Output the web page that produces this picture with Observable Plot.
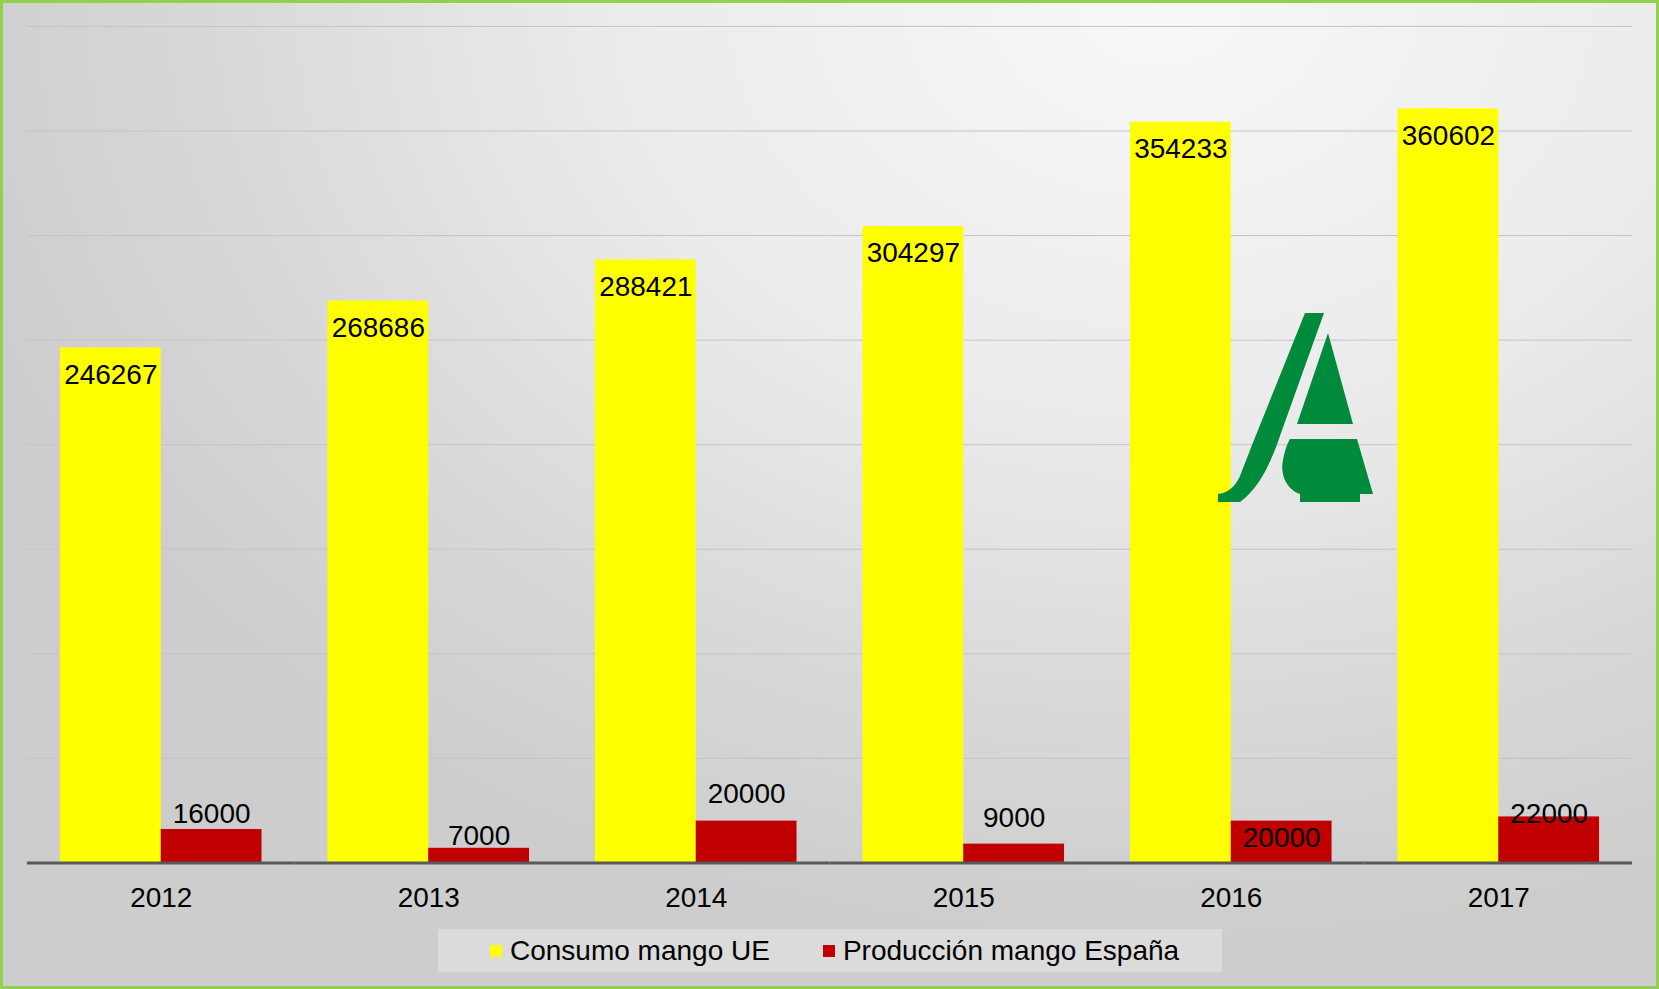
<!DOCTYPE html>
<html>
<head>
<meta charset="utf-8">
<script src="https://cdn.jsdelivr.net/npm/d3@7"></script>
<script src="https://cdn.jsdelivr.net/npm/@observablehq/plot@0.6"></script>
<style>
  html, body { margin: 0; padding: 0; }
  body { width: 1659px; height: 989px; overflow: hidden; font-family: "Liberation Sans", Arial, sans-serif; }
  #frame {
    position: absolute; left: 0; top: 0; width: 1659px; height: 989px; box-sizing: border-box;
    border: 3px solid #92d050;
    background: radial-gradient(ellipse 75% 95% at 70% 0%, #f7f7f7 0%, #ebebeb 45%, #d9d9d9 75%, #cdcdcd 100%);
  }
  #chart { position: absolute; left: -3px; top: -3px; }
  #legend {
    position: absolute; left: 435px; top: 926px; width: 784px; height: 43px; box-sizing: border-box;
    background: rgba(255,255,255,0.28);
    display: flex; align-items: center; justify-content: flex-start; gap: 53px; padding-left: 52px;
    font-size: 28px; color: #000;
  }
  .item { display: flex; align-items: center; gap: 8px; }
  .sw { width: 12px; height: 12px; display: inline-block; }
  #logo { position: absolute; left: 1187px; top: 287px; }
</style>
</head>
<body>
<div id="frame">
  <div id="chart"></div>
  <svg id="logo" width="200" height="230" viewBox="0 0 200 230">
    <g fill="#008a3b">
      <path d="M115,23 L134,23 L91,143 C82,170 70,198 50,212 L28,212 L28,204 C38,203 45,197 50,186 L62,155 Z"/>
      <path d="M138,43 L163,134 L107,134 Z"/>
      <path d="M100,149 L167,149 L183,204 L170,204 L170,212 L110,212 L110,204 C96,199 90,184 93,170 C95,160 97,154 100,149 Z"/>
    </g>
  </svg>
  <div id="legend">
    <span class="item"><span class="sw" style="background:#ffff00"></span>Consumo mango UE</span>
    <span class="item"><span class="sw" style="background:#c00000"></span>Producción mango España</span>
  </div>
</div>
<script>
const years = ["2012", "2013", "2014", "2015", "2016", "2017"];
const consumoUE = [246267, 268686, 288421, 304297, 354233, 360602];
const produccionEspana = [16000, 7000, 20000, 9000, 20000, 22000];
const seriesNames = ["Consumo mango UE", "Producción mango España"];
const seriesColors = ["#ffff00", "#c00000"];
const gridTicks = [50000, 100000, 150000, 200000, 250000, 300000, 350000, 400000];
// vertical offsets of the production labels, as placed in the original
const prodLabelDy = [-15, -12, -27, -26, 17, -3];

const consumoRows = years.map((year, i) => ({year, series: seriesNames[0], value: consumoUE[i]}));
const prodRows = years.map((year, i) => ({year, series: seriesNames[1], value: produccionEspana[i]}));
const rows = consumoRows.concat(prodRows);

const chart = Plot.plot({
  width: 1659,
  height: 920,
  marginTop: 26,
  marginBottom: 56,
  marginLeft: 27,
  marginRight: 24,
  style: {background: "transparent", fontFamily: "'Liberation Sans', Arial, sans-serif", fontSize: "28px", color: "#000"},
  fx: {domain: years, padding: 0, round: false, label: null},
  x: {domain: seriesNames, paddingInner: 0, paddingOuter: 0.327, round: false, axis: null},
  y: {domain: [0, 400000], axis: null},
  color: {domain: seriesNames, range: seriesColors},
  marks: [
    Plot.ruleY(gridTicks, {stroke: "#c4c4c4", strokeWidth: 1}),
    Plot.barY(rows, {fx: "year", x: "series", y: "value", fill: "series"}),
    Plot.ruleY([0], {stroke: "#595959", strokeWidth: 3}),
    Plot.text(consumoRows, {fx: "year", x: "series", y: "value", text: d => String(d.value), dy: 27, lineAnchor: "middle", fill: "#000", fontSize: 28}),
    ...prodRows.map((r, i) => Plot.text([r], {fx: "year", x: "series", y: "value", text: d => String(d.value), dy: prodLabelDy[i], lineAnchor: "middle", fill: "#000", fontSize: 28})),
    Plot.axisFx({anchor: "bottom", tickSize: 0, tickPadding: 24, fontSize: 28, label: null, fill: "#000"})
  ]
});
document.getElementById("chart").appendChild(chart);
</script>
</body>
</html>
